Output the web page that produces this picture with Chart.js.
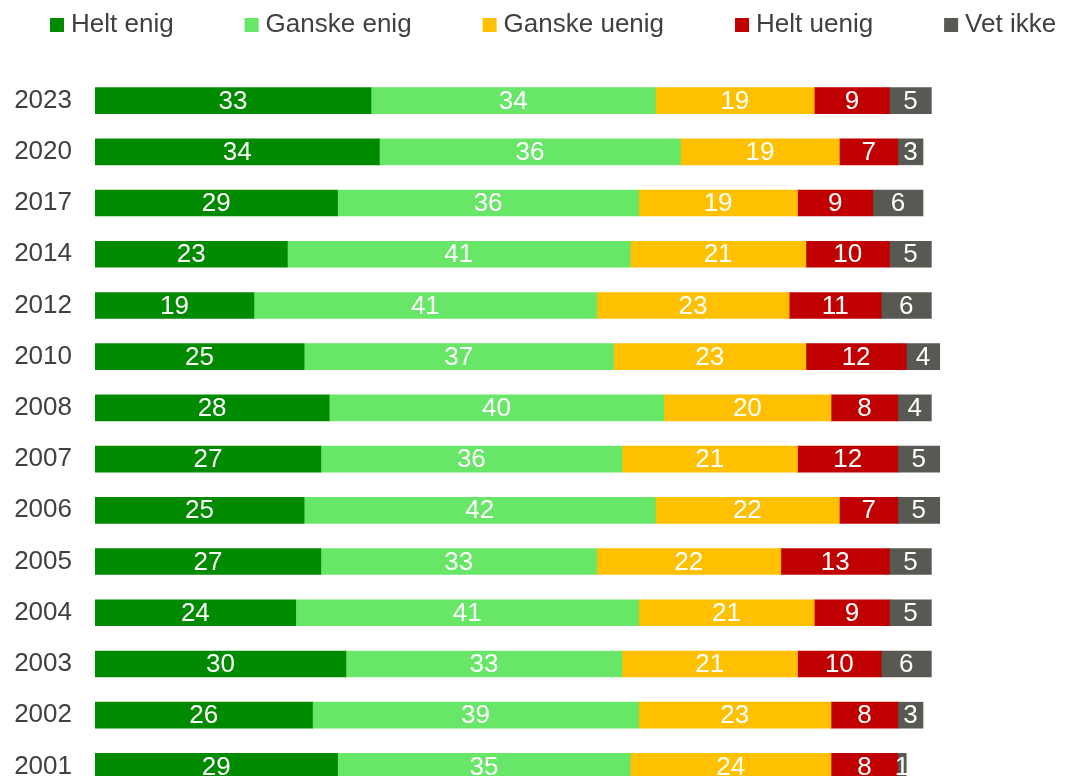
<!DOCTYPE html>
<html>
<head>
<meta charset="utf-8">
<script src="https://cdn.jsdelivr.net/npm/chart.js@4"></script>
<style>
  html, body { margin: 0; padding: 0; overflow: hidden; background: #fff; }
  canvas { display: block; }
</style>
</head>
<body>
<canvas id="myChart" width="1066" height="792"></canvas>
<script>
// years, top to bottom
const years = ['2023', '2020', '2017', '2014', '2012', '2010', '2008', '2007', '2006', '2005', '2004', '2003', '2002', '2001'];

const heltEnig    = [33, 34, 29, 23, 19, 25, 28, 27, 25, 27, 24, 30, 26, 29];
const ganskeEnig  = [34, 36, 36, 41, 41, 37, 40, 36, 42, 33, 41, 33, 39, 35];
const ganskeUenig = [19, 19, 19, 21, 23, 23, 20, 21, 22, 22, 21, 21, 23, 24];
const heltUenig   = [9, 7, 9, 10, 11, 12, 8, 12, 7, 13, 9, 10, 8, 8];
const vetIkke     = [5, 3, 6, 5, 6, 4, 4, 5, 5, 5, 5, 6, 3, 1];

const FONT = '"Liberation Sans", Arial, sans-serif';
const TEXT = '#404040';

const data = {
    labels: years,
    datasets: [
        { label: 'Helt enig', data: heltEnig, backgroundColor: '#008A00' },
        { label: 'Ganske enig', data: ganskeEnig, backgroundColor: '#67E667' },
        { label: 'Ganske uenig', data: ganskeUenig, backgroundColor: '#FFC000' },
        { label: 'Helt uenig', data: heltUenig, backgroundColor: '#C00000' },
        { label: 'Vet ikke', data: vetIkke, backgroundColor: '#595953' }
    ]
};

// white numbers in the middle of each segment
const segmentLabels = {
    id: 'segmentLabels',
    afterDatasetsDraw(chart) {
        const ctx = chart.ctx;
        ctx.save();
        ctx.font = '26px ' + FONT;
        ctx.fillStyle = '#fff';
        ctx.textAlign = 'center';
        ctx.textBaseline = 'middle';
        chart.data.datasets.forEach((ds, i) => {
            chart.getDatasetMeta(i).data.forEach((bar, j) => {
                const p = bar.getProps(['x', 'y', 'base'], true);
                ctx.fillText(String(ds.data[j]), (p.x + p.base) / 2, p.y + 1);
            });
        });
        ctx.restore();
    }
};

// legend row across the top
const topLegend = {
    id: 'topLegend',
    afterDraw(chart) {
        const ctx = chart.ctx;
        ctx.save();
        ctx.font = '26px ' + FONT;
        ctx.textBaseline = 'middle';
        let x = 50;
        const y = 25;
        chart.data.datasets.forEach(ds => {
            ctx.fillStyle = ds.backgroundColor;
            ctx.fillRect(x, y - 7, 14, 14);
            ctx.fillStyle = TEXT;
            ctx.fillText(ds.label, x + 21, y);
            x += 21 + ctx.measureText(ds.label).width + 71;
        });
        ctx.restore();
    }
};

const config = {
    type: 'bar',
    data,
    options: {
        indexAxis: 'y',
        responsive: false,
        animation: false,
        layout: { padding: { top: 75, left: 14, right: 51, bottom: 0 } },
        datasets: { bar: { barThickness: 26 } },
        plugins: {
            legend: { display: false },
            tooltip: { enabled: false }
        },
        scales: {
            x: {
                stacked: true,
                display: false,
                min: 0,
                max: 110
            },
            y: {
                stacked: true,
                grid: { display: false, drawTicks: false },
                border: { display: false },
                ticks: {
                    color: TEXT,
                    padding: 23,
                    font: { family: FONT, size: 26 }
                },
                afterFit(scale) {
                    scale.width = 81;
                    scale.paddingTop = 0;
                    scale.paddingBottom = 0;
                }
            }
        }
    },
    plugins: [segmentLabels, topLegend]
};

var myChart = new Chart(document.getElementById('myChart'), config);
</script>
</body>
</html>
